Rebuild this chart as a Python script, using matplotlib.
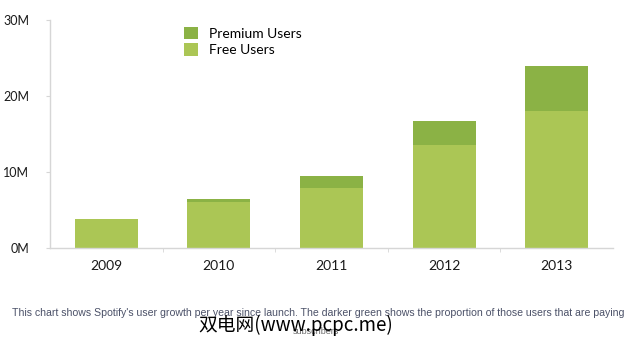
import numpy as np
import matplotlib.pyplot as plt
from matplotlib.patches import Patch

years = ['2009', '2010', '2011', '2012', '2013']
free_users = [3.8, 6.0, 7.9, 13.5, 18.0]       # millions
premium_users = [0.0, 0.5, 1.6, 3.2, 6.0]      # millions
y_ticks = [0, 10, 20, 30]
y_labels = ['0M', '10M', '20M', '30M']

caption = ("This chart shows Spotify's user growth per year since launch. "
           "The darker green shows the proportion of those users that are paying")
caption2 = 'subscribers'
watermark = '双电网(www.pcpc.me)'

c_free = '#abc655'
c_prem = '#8bb245'
grid_c = '#d6d6d6'

plt.rcParams['font.family'] = ['Lato', 'DejaVu Sans']

fig = plt.figure(figsize=(6.4, 3.5), dpi=100)
ax = fig.add_axes([50 / 640, 1 - 248 / 350, 563 / 640, 228 / 350])

x = np.arange(len(years))
ax.bar(x, free_users, width=0.56, color=c_free, label='Free Users')
ax.bar(x, premium_users, width=0.56, bottom=free_users, color=c_prem, label='Premium Users')

ax.set_xlim(-0.5, len(years) - 0.5)
ax.set_ylim(0, 30)
ax.set_yticks(y_ticks)
ax.set_yticklabels(y_labels)
ax.set_xticks(x)
ax.set_xticklabels(years)
ax.set_xticks(np.arange(len(years) - 1) + 0.5, minor=True)

for s in ['top', 'right']:
    ax.spines[s].set_visible(False)
for s in ['left', 'bottom']:
    ax.spines[s].set_color(grid_c)
    ax.spines[s].set_linewidth(1.0)

ax.tick_params(axis='x', which='major', length=0, pad=9, labelsize=10, labelcolor='#1a1a1a')
ax.tick_params(axis='x', which='minor', length=3, color=grid_c, direction='out')
ax.tick_params(axis='y', length=3, color=grid_c, pad=12, labelsize=9, labelcolor='#1a1a1a')

handles = [Patch(facecolor=c_prem, label='Premium Users'),
           Patch(facecolor=c_free, label='Free Users')]
fig.legend(handles=handles, loc='upper left', bbox_to_anchor=(174 / 640, 1 - 17 / 350),
           frameon=False, fontsize=10, handlelength=1.0, handleheight=1.0,
           labelspacing=0.25, handletextpad=0.8, borderpad=0.2)

fig.text(318 / 640, 1 - 313 / 350, caption, ha='center', va='center', fontsize=7.6,
         color='#4b5168', family=['Liberation Sans', 'DejaVu Sans'])
fig.text(316 / 640, 1 - 332 / 350, caption2, ha='center', va='center', fontsize=6.5,
         color='#6a6a6a', family=['Liberation Sans', 'DejaVu Sans'])
fig.text(198 / 640, 1 - 325 / 350, watermark, ha='left', va='center', fontsize=13.5,
         color='black', family=['Noto Sans CJK SC', 'DejaVu Sans'])

fig.savefig('out.png', dpi=100)
